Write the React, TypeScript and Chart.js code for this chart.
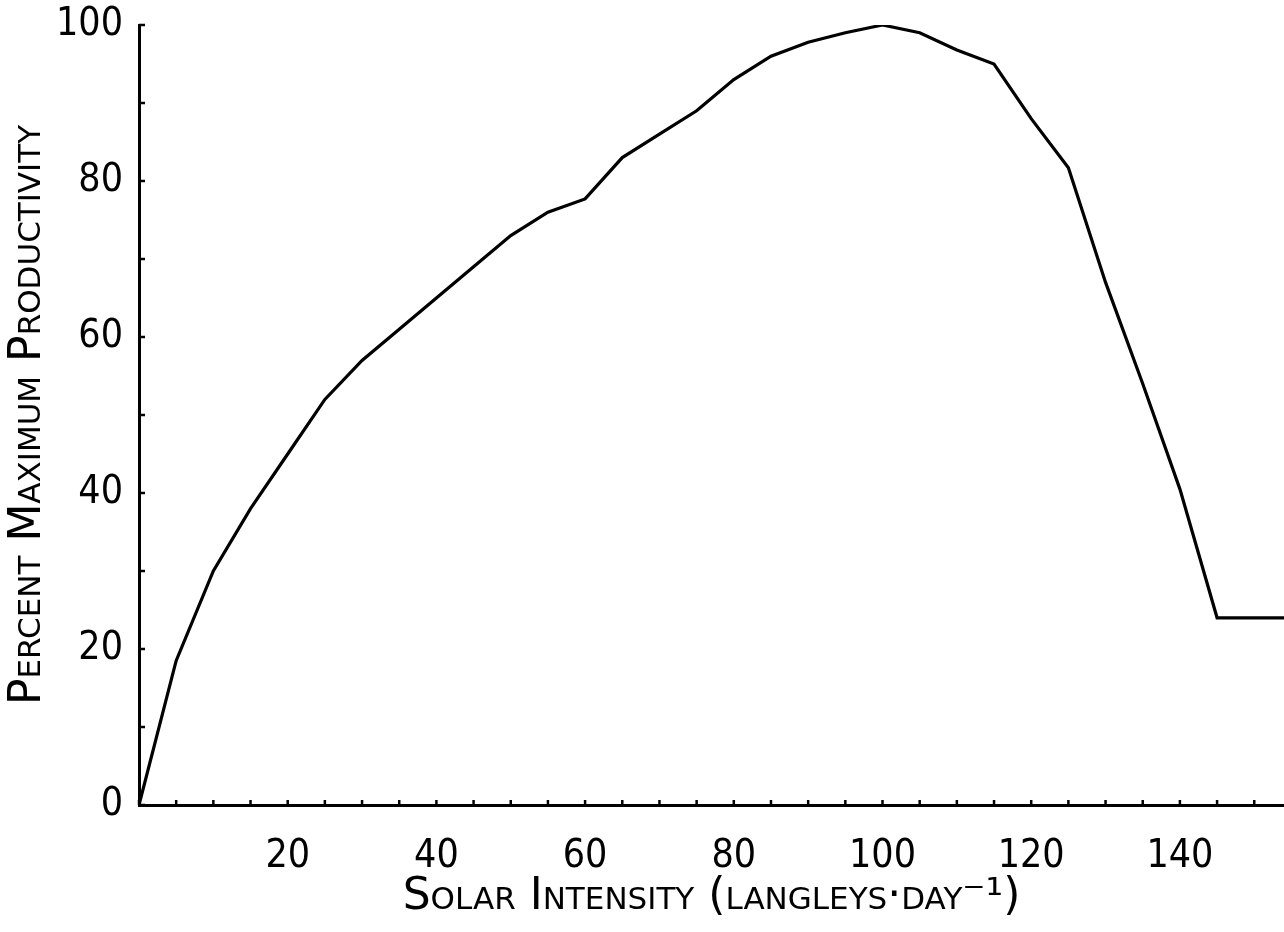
import { useEffect, useRef } from 'react';
import { Chart, registerables } from 'chart.js';

Chart.register(...registerables);

// Solar intensity (langleys·day⁻¹)
const solarIntensity = [0, 5, 10, 15, 20, 25, 30, 35, 40, 45, 50, 55, 60, 65, 70, 75, 80, 85, 90, 95, 100, 105, 110, 115, 120, 125, 130, 135, 140, 145, 150, 155];
// Percent maximum productivity
const percentMaxProductivity = [0, 18.5, 30, 38, 45, 52, 57, 61, 65, 69, 73, 76, 77.7, 83, 86, 89, 93, 96, 97.8, 99, 100, 99, 96.8, 95, 88, 81.7, 67, 54, 40.5, 24, 24, 24];

const xTickMarks = [0, 5, 10, 15, 20, 25, 30, 35, 40, 45, 50, 55, 60, 65, 70, 75, 80, 85, 90, 95, 100, 105, 110, 115, 120, 125, 130, 135, 140, 145, 150];
const yTickMarks = [0, 10, 20, 30, 40, 50, 60, 70, 80, 90, 100];
const xLabelValues = [20, 40, 60, 80, 100, 120, 140];
const yLabelValues = [0, 20, 40, 60, 80, 100];

const xTitle = 'Solar Intensity (langleys·day⁻¹)';
const yTitle = 'Percent Maximum Productivity';

const tickFont = "'Liberation Sans Narrow', 'DejaVu Sans Condensed', 'Liberation Sans', sans-serif";
const titleFont = "'DejaVu Sans', sans-serif";

const innerTicks = {
  id: 'innerTicks',
  afterDraw(chart: any) {
    const { ctx, chartArea, scales } = chart;
    const xs = scales.x;
    const ys = scales.y;
    ctx.save();
    ctx.strokeStyle = '#000';
    ctx.lineWidth = 2.5;
    ctx.beginPath();
    for (const v of xTickMarks) {
      const px = xs.getPixelForValue(v);
      ctx.moveTo(px, chartArea.bottom);
      ctx.lineTo(px, chartArea.bottom - 5);
    }
    for (const v of yTickMarks) {
      const py = ys.getPixelForValue(v);
      ctx.moveTo(chartArea.left, py);
      ctx.lineTo(chartArea.left + 6, py);
    }
    ctx.stroke();
    ctx.restore();
  },
};

export default function App() {
  const canvasRef = useRef<HTMLCanvasElement | null>(null);

  useEffect(() => {
    const canvas = canvasRef.current;
    if (!canvas) return;
    const chart = new Chart(canvas, {
      type: 'line',
      data: {
        datasets: [
          {
            label: yTitle,
            data: solarIntensity.map((x, i) => ({ x, y: percentMaxProductivity[i] })),
            borderColor: '#000',
            borderWidth: 3.2,
            pointRadius: 0,
            tension: 0,
            fill: false,
          },
        ],
      },
      options: {
        responsive: false,
        animation: false,
        events: [],
        layout: { padding: { top: 25, left: 0, right: 0, bottom: 0 } },
        plugins: {
          legend: { display: false },
          tooltip: { enabled: false },
        },
        scales: {
          x: {
            type: 'linear',
            min: 0,
            max: 154,
            border: { display: true, color: '#000', width: 3 },
            grid: { display: false, drawTicks: false },
            ticks: {
              stepSize: 5,
              autoSkip: false,
              maxRotation: 0,
              padding: 28,
              color: '#000',
              font: { family: tickFont, size: 39 },
              callback: (v: any) => (xLabelValues.includes(Number(v)) ? String(v) : ''),
            },
            title: {
              display: true,
              text: xTitle,
              color: '#000',
              font: { family: titleFont, size: 44, weight: 'small-caps' as any },
              padding: { top: 0, bottom: 8 },
            },
            afterFit: (s: any) => {
              s.height = 127;
              s.paddingLeft = 0;
              s.paddingRight = 0;
            },
          },
          y: {
            type: 'linear',
            min: 0,
            max: 100,
            border: { display: true, color: '#000', width: 3 },
            grid: { display: false, drawTicks: false },
            ticks: {
              stepSize: 10,
              autoSkip: false,
              padding: 16,
              color: '#000',
              font: { family: tickFont, size: 39 },
              callback: (v: any) => (yLabelValues.includes(Number(v)) ? String(v) : ''),
            },
            title: {
              display: true,
              text: yTitle,
              color: '#000',
              font: { family: titleFont, size: 44, weight: 'small-caps' as any },
              padding: { top: 2, bottom: 0 },
            },
            afterFit: (s: any) => {
              s.width = 139;
              s.paddingTop = 0;
              s.paddingBottom = 0;
            },
          },
        },
      },
      plugins: [innerTicks],
    });
    return () => chart.destroy();
  }, []);

  return (
    <div style={{ position: 'absolute', left: 0, top: 0, width: 1284, height: 932, background: '#fff' }}>
      <canvas ref={canvasRef} width={1284} height={932} />
    </div>
  );
}
